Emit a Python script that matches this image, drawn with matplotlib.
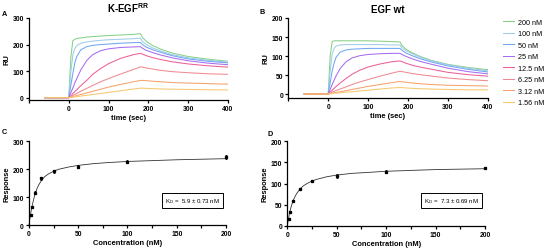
import matplotlib
matplotlib.use("Agg")
import matplotlib.pyplot as plt

# === data ===
conc_labels = ["200 nM", "100 nM", "50 nM", "25 nM", "12.5 nM", "6.25 nM", "3.12 nM", "1.56 nM"]
colors = ["#86d186", "#9fcce8", "#6fa6f2", "#a66cf2", "#ec5f98", "#f08a92", "#f5a36c", "#f7c86e"]

t_pts = [-60, 0, 5, 10, 15, 20, 30, 45, 60, 80, 100, 130, 160, 180,
         185, 195, 210, 230, 260, 300, 350, 400]

# panel A: K-EGF RR sensorgrams (RU)
ru_a_200 = [0, 0, 150, 214, 220, 223, 225, 228, 230, 232, 234, 236, 238, 241, 227, 212, 197, 183, 168, 155, 145, 137]
ru_a_100 = [0, 0, 95, 160, 185, 196, 205, 210, 213, 216, 218, 220, 222, 224, 212, 200, 188, 176, 162, 150, 141, 134]
ru_a_50 = [0, 0, 45, 90, 130, 155, 180, 192, 197, 200, 202, 205, 207, 208, 200, 190, 181, 171, 158, 146, 137, 131]
ru_a_25 = [0, 0, 18, 36, 55, 72, 104, 140, 162, 177, 184, 189, 191, 192, 186, 178, 170, 161, 150, 139, 130, 124]
ru_a_12 = [0, 0, 7, 15, 23, 30, 45, 65, 88, 110, 128, 148, 161, 167, 164, 158, 151, 144, 135, 127, 120, 115]
ru_a_6 = [0, 0, 4, 8, 12, 16, 24, 35, 46, 60, 72, 89, 105, 116, 115, 112, 108, 103, 98, 94, 90, 88]
ru_a_3 = [0, 0, 2, 4, 6, 8, 12, 18, 24, 32, 40, 50, 59, 65, 65, 64, 62, 60, 57, 55, 53, 51]
ru_a_1 = [0, 0, 1, 2, 3, 4, 6, 9, 12, 16, 20, 26, 32, 36, 36, 35, 34, 33, 32, 31, 30, 29]

# panel B: EGF wt sensorgrams (RU)
ru_b_200 = [0, 0, 100, 138, 140, 140, 140, 140, 140, 140, 140, 139, 138, 137, 128, 118, 109, 99, 88, 78, 70, 64]
ru_b_100 = [0, 0, 60, 105, 120, 126, 129, 130, 130, 130, 130, 130, 129, 129, 122, 114, 106, 97, 87, 77, 68, 61]
ru_b_50 = [0, 0, 30, 60, 82, 97, 110, 116, 118, 119, 120, 120, 120, 120, 115, 108, 101, 93, 84, 74, 65, 58]
ru_b_25 = [0, 0, 12, 25, 37, 48, 67, 85, 95, 101, 104, 106, 107, 107, 104, 99, 93, 86, 78, 68, 59, 53]
ru_b_12 = [0, 0, 5, 10, 15, 20, 29, 41, 52, 63, 71, 79, 85, 87, 85, 81, 76, 71, 65, 57, 51, 47]
ru_b_6 = [0, 0, 2, 5, 7, 9, 13, 19, 25, 32, 38, 47, 55, 60, 59, 57, 54, 51, 47, 42, 38, 35]
ru_b_3 = [0, 0, 1, 2, 3, 4, 6, 9, 12, 16, 20, 25, 30, 33, 32, 31, 29, 27, 25, 23, 22, 21]
ru_b_1 = [0, 0, 1, 1, 2, 2, 3, 5, 6, 8, 10, 13, 16, 17, 17, 16, 15, 14, 13, 12, 11, 11]

series_a = [ru_a_200, ru_a_100, ru_a_50, ru_a_25, ru_a_12, ru_a_6, ru_a_3, ru_a_1]
series_b = [ru_b_200, ru_b_100, ru_b_50, ru_b_25, ru_b_12, ru_b_6, ru_b_3, ru_b_1]

# panels C / D: steady-state response vs concentration
conc = [1.56, 3.12, 6.25, 12.5, 25, 50, 100, 200]
resp_c = [38, 65, 117, 168, 193, 210, 227, 245]
err_c = [4, 4, 5, 6, 6, 7, 6, 7]
resp_d = [17, 32, 59, 87, 106, 118, 128, 137]
err_d = [2, 2, 3, 3, 3, 4, 3, 3]

fit_conc = [0, 1, 2, 3, 4, 6, 8, 10, 13, 16, 20, 25, 30, 40, 50, 65, 80, 100, 125, 150, 175, 200]
fit_c = [0, 27, 48, 66, 82, 110, 130, 145, 162, 174, 184, 193, 200, 208, 214, 220, 224, 228, 231, 234, 236, 238]
fit_d = [0, 14, 27, 37, 46, 60, 70, 78, 87, 94, 100, 106, 110, 116, 120, 124, 126, 129, 131, 133, 134, 135]

# === style ===
plt.rcParams['font.family'] = ['Liberation Sans', 'DejaVu Sans']
plt.rcParams['mathtext.fontset'] = 'custom'
plt.rcParams['mathtext.rm'] = 'Liberation Sans'
plt.rcParams['mathtext.bf'] = 'Liberation Sans:bold'

W, H = 546, 251
fig = plt.figure(figsize=(5.46, 2.51), dpi=100)


def box(x0, y0, x1, y1):
    # pixel box (top-left origin) -> figure fraction
    return [x0 / W, 1 - y1 / H, (x1 - x0) / W, (y1 - y0) / H]


axA = fig.add_axes(box(29, 19, 228, 101))
axB = fig.add_axes(box(288.3, 19, 487.7, 98.7))
axC = fig.add_axes(box(29, 142.3, 226, 226.3))
axD = fig.add_axes(box(287.3, 142.3, 485, 226.7))


def style(ax):
    for s in ["top", "right"]:
        ax.spines[s].set_visible(False)
    for s in ["left", "bottom"]:
        ax.spines[s].set_linewidth(0.9)
    ax.tick_params(axis='both', which='major', length=2.5, width=0.9, pad=1.2, labelsize=4.9)
    ax.tick_params(axis='both', which='minor', length=2.5, width=0.9)
    for lab in ax.get_xticklabels() + ax.get_yticklabels():
        lab.set_fontweight('bold')


# sensorgrams
for ax, series in [(axA, series_a), (axB, series_b)]:
    for vals, col, lab in zip(series, colors, conc_labels):
        ax.plot(t_pts, vals, color=col, lw=0.75, label=lab)
    ax.set_xlim(-100, 400)
    ax.set_xticks([-100, 0, 100, 200, 300, 400])
    ax.set_xticklabels(["", "0", "100", "200", "300", "400"])
    ax.set_xlabel("time (sec)", fontsize=5.4, fontweight='bold', labelpad=1.2)
    ax.set_ylabel("RU", fontsize=5.4, fontweight='bold', labelpad=1.5)

axA.set_ylim(-8.7, 300)
axA.set_yticks([0, 100, 200, 300])
axB.set_ylim(-9.7, 200)
axB.set_yticks([0, 50, 100, 150, 200])

axA.set_title("K-EGF$^{\\mathbf{RR}}$", fontsize=7, fontweight='bold', pad=4.5)
axB.set_title("EGF wt", fontsize=7, fontweight='bold', pad=4.5)

# binding curves
for ax, resp, err, fit, ymax, kd in [(axC, resp_c, err_c, fit_c, 300, "5.9 ± 0.73 nM"),
                                     (axD, resp_d, err_d, fit_d, 200, "7.3 ± 0.69 nM")]:
    ax.plot(fit_conc, fit, color="#333333", lw=0.6, clip_on=False)
    ax.errorbar(conc, resp, yerr=err, fmt='s', ms=1.4, color='black', ecolor='black',
                elinewidth=0.6, capsize=1.0, capthick=0.6, clip_on=False)
    ax.set_xlim(0, 200)
    ax.set_ylim(0, ymax)
    ax.set_xticks([0, 50, 100, 150, 200])
    ax.set_xticks([25, 75, 125, 175], minor=True)
    ax.set_xlabel("Concentration (nM)", fontsize=5.4, fontweight='bold', labelpad=1.2)
    ax.set_ylabel("Response", fontsize=5.4, fontweight='bold', labelpad=1.5)
    ax.text(166, ymax * 0.3, "K$_\\mathrm{D}$ =  " + kd, fontsize=4.4, ha='center', va='center',
            bbox=dict(boxstyle='square,pad=0.5', fc='white', ec='black', lw=0.7))

axC.set_yticks([0, 100, 200, 300])
axD.set_yticks([0, 50, 100, 150, 200])

for ax in [axA, axB, axC, axD]:
    style(ax)

# panel letters
for lab, x, y in [("A", 4.5, 14), ("B", 262, 12.5), ("C", 4.5, 132.5), ("D", 270.5, 135)]:
    fig.text(x / W, 1 - y / H, lab, fontsize=5.2, fontweight='bold', ha='center', va='center')

# legend
h, l = axB.get_legend_handles_labels()
fig.legend(h, l, loc='upper left', bbox_to_anchor=(503 / W, 1 - 19.5 / H), frameon=False,
           fontsize=5.2, handlelength=1.55, handletextpad=0.55, labelspacing=0.62,
           borderpad=0, borderaxespad=0)

fig.savefig("out.png", dpi=100)
